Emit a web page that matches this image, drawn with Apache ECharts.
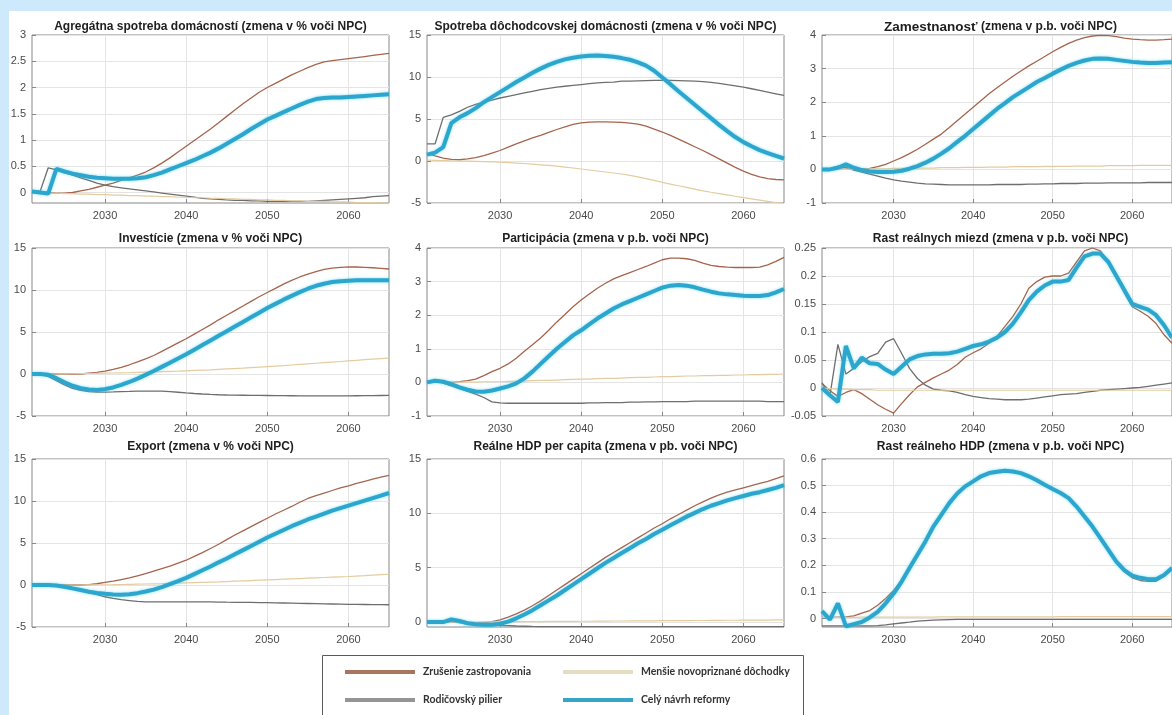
<!DOCTYPE html>
<html>
<head>
<meta charset="utf-8">
<script src="https://cdn.jsdelivr.net/npm/echarts@6/dist/echarts.min.js"></script>
<style>
html, body { margin: 0; padding: 0; background: #cde9fb; overflow: hidden; }
#sheet { position: absolute; left: 9px; top: 11px; right: 0; bottom: 0; background: #ffffff; }
#chart { position: absolute; left: 0; top: 0; width: 1172px; height: 715px; }
</style>
</head>
<body>
<div id="sheet"></div>
<div id="chart"></div>
<script>
// Years on the horizontal axis
const years = [
  2021, 2022, 2023, 2024, 2025, 2026, 2027, 2028, 2029, 2030,
  2031, 2032, 2033, 2034, 2035, 2036, 2037, 2038, 2039, 2040,
  2041, 2042, 2043, 2044, 2045, 2046, 2047, 2048, 2049, 2050,
  2051, 2052, 2053, 2054, 2055, 2056, 2057, 2058, 2059, 2060,
  2061, 2062, 2063, 2064, 2065
];
const yearTicks = [2030, 2040, 2050, 2060];

// Scenario names (legend)
const scenarioNames = [
  'Zrušenie zastropovania',
  'Rodičovský pilier',
  'Menšie novopriznané dôchodky',
  'Celý návrh reformy'
];

// --- Agregátna spotreba domácností ---
const spotrebaZrusenie = [
  0, 0, 0, -0.01, -0.01,
  0, 0.03, 0.06, 0.1, 0.14,
  0.18, 0.23, 0.28, 0.33, 0.39,
  0.47, 0.56, 0.66, 0.77, 0.88,
  0.99, 1.1, 1.21, 1.33, 1.45,
  1.57, 1.69, 1.8, 1.91, 2.0,
  2.08, 2.16, 2.24, 2.31, 2.38,
  2.44, 2.49, 2.51, 2.53, 2.55,
  2.57, 2.59, 2.61, 2.63, 2.65
];
const spotrebaPilier = [
  0.03, 0.02, 0.47, 0.43, 0.38,
  0.33, 0.28, 0.23, 0.18, 0.14,
  0.11, 0.09, 0.07, 0.05, 0.03,
  0.01, -0.01, -0.03, -0.05, -0.07,
  -0.09, -0.11, -0.12, -0.13, -0.14,
  -0.15, -0.15, -0.16, -0.16, -0.17,
  -0.17, -0.17, -0.17, -0.17, -0.17,
  -0.16, -0.15, -0.14, -0.13, -0.12,
  -0.11, -0.1, -0.08, -0.07, -0.06
];
const spotrebaMensie = [
  0, 0, -0.01, -0.01, -0.02,
  -0.02, -0.03, -0.03, -0.04, -0.04,
  -0.05, -0.05, -0.06, -0.06, -0.07,
  -0.07, -0.08, -0.08, -0.09, -0.09,
  -0.1, -0.1, -0.11, -0.11, -0.12,
  -0.12, -0.13, -0.13, -0.14, -0.14,
  -0.15, -0.15, -0.16, -0.16, -0.17,
  -0.17, -0.17, -0.18, -0.18, -0.18,
  -0.19, -0.19, -0.19, -0.2, -0.2
];
const spotrebaCely = [
  0.02, 0.0, -0.02, 0.45, 0.4,
  0.36, 0.33, 0.3, 0.28, 0.27,
  0.26, 0.26, 0.26, 0.27, 0.29,
  0.33, 0.38, 0.44, 0.5, 0.56,
  0.62, 0.69, 0.76, 0.84, 0.93,
  1.02, 1.11, 1.21, 1.3, 1.39,
  1.46, 1.53, 1.6, 1.67, 1.73,
  1.78, 1.8, 1.81, 1.81, 1.82,
  1.83, 1.84, 1.85, 1.86, 1.87
];

// --- Spotreba dôchodcovskej domácnosti ---
const dochodcaZrusenie = [
  0.9, 0.6, 0.35, 0.2, 0.15,
  0.25, 0.4, 0.65, 0.95, 1.25,
  1.65, 2.05, 2.4, 2.75, 3.05,
  3.4, 3.75, 4.05, 4.35, 4.55,
  4.62, 4.65, 4.65, 4.63, 4.6,
  4.52, 4.4, 4.15, 3.8, 3.45,
  3.05, 2.6, 2.15, 1.7, 1.25,
  0.75, 0.25, -0.25, -0.75, -1.2,
  -1.6, -1.9, -2.1, -2.2, -2.25
];
const dochodcaPilier = [
  2.05, 2.05, 5.2, 5.5, 5.9,
  6.4, 6.75, 7.0, 7.25, 7.5,
  7.7, 7.9, 8.1, 8.3, 8.5,
  8.65, 8.8, 8.9, 9.0, 9.1,
  9.2, 9.3, 9.35, 9.4, 9.5,
  9.52, 9.55, 9.58, 9.6, 9.6,
  9.6, 9.58, 9.55, 9.5, 9.45,
  9.35, 9.25, 9.1, 8.95, 8.8,
  8.6, 8.4, 8.2, 8.0, 7.8
];
const dochodcaMensie = [
  0.1, 0.08, 0.05, 0.02, 0.0,
  -0.02, -0.05, -0.08, -0.11, -0.15,
  -0.2, -0.25, -0.3, -0.37, -0.45,
  -0.53, -0.62, -0.72, -0.83, -0.95,
  -1.07, -1.19, -1.31, -1.43, -1.55,
  -1.72, -1.9, -2.1, -2.3, -2.55,
  -2.75, -2.95, -3.15, -3.35, -3.55,
  -3.72, -3.88, -4.04, -4.2, -4.35,
  -4.5, -4.65, -4.8, -4.95, -5.1
];
const dochodcaCely = [
  0.76, 1.0, 1.65, 4.5, 5.2,
  5.7, 6.3, 7.0, 7.6, 8.2,
  8.8, 9.4, 9.95, 10.5, 11.0,
  11.45, 11.8, 12.1, 12.3, 12.45,
  12.52, 12.55, 12.5, 12.4, 12.25,
  12.05, 11.75, 11.35, 10.75, 9.95,
  9.15, 8.3, 7.5, 6.7, 5.9,
  5.1, 4.3, 3.55, 2.85, 2.25,
  1.75, 1.3, 0.95, 0.6, 0.3
];

// --- Zamestnanosť ---
const zamestZrusenie = [
  0, 0, 0.02, 0.05, 0.0,
  0.0, 0.03, 0.08, 0.15, 0.25,
  0.35, 0.47, 0.6, 0.75, 0.9,
  1.05, 1.25, 1.45, 1.65, 1.85,
  2.05, 2.25, 2.43, 2.6, 2.77,
  2.93, 3.08, 3.22, 3.36, 3.5,
  3.63, 3.75, 3.85, 3.92, 3.97,
  3.99, 3.98, 3.95, 3.91, 3.88,
  3.86, 3.85, 3.85, 3.86, 3.88
];
const zamestPilier = [
  0, 0.02, 0.1, 0.05, -0.02,
  -0.08, -0.14, -0.2, -0.26, -0.31,
  -0.35, -0.38, -0.41, -0.43, -0.44,
  -0.45, -0.46, -0.46, -0.46, -0.46,
  -0.46, -0.46, -0.45, -0.45, -0.45,
  -0.45, -0.44, -0.44, -0.43, -0.43,
  -0.42, -0.42, -0.42, -0.41, -0.41,
  -0.41, -0.4, -0.4, -0.4, -0.4,
  -0.4, -0.39, -0.39, -0.39, -0.39
];
const zamestMensie = [
  0, 0, 0.01, 0.01, 0.01,
  0.01, 0.02, 0.02, 0.02, 0.03,
  0.03, 0.03, 0.04, 0.04, 0.04,
  0.05, 0.05, 0.05, 0.06, 0.06,
  0.06, 0.07, 0.07, 0.07, 0.08,
  0.08, 0.08, 0.08, 0.09, 0.09,
  0.09, 0.09, 0.1, 0.1, 0.1,
  0.1, 0.11, 0.11, 0.11, 0.11,
  0.12, 0.12, 0.12, 0.12, 0.12
];
const zamestCely = [
  0, 0, 0.05, 0.15, 0.05,
  -0.02, -0.06, -0.08, -0.08, -0.07,
  -0.04, 0.02, 0.1, 0.2, 0.32,
  0.47, 0.63, 0.82, 1.0, 1.2,
  1.4, 1.6, 1.8, 1.97, 2.15,
  2.3, 2.45, 2.6, 2.72, 2.85,
  2.97, 3.08, 3.17, 3.24, 3.29,
  3.3, 3.29, 3.26, 3.23, 3.2,
  3.18, 3.17, 3.17, 3.18, 3.19
];

// --- Investície ---
const investZrusenie = [
  0, 0, 0, 0, 0,
  0, 0, 0.1, 0.2, 0.33,
  0.55, 0.8, 1.1, 1.45, 1.8,
  2.2, 2.7, 3.2, 3.7, 4.2,
  4.75, 5.3, 5.85, 6.45, 7.0,
  7.55, 8.1, 8.65, 9.2, 9.7,
  10.2, 10.7, 11.15, 11.55, 11.9,
  12.2, 12.45, 12.6, 12.7, 12.75,
  12.74, 12.7, 12.65, 12.58, 12.5
];
const investPilier = [
  0, 0, -0.3, -0.8, -1.3,
  -1.7, -1.95, -2.1, -2.15, -2.15,
  -2.13, -2.1, -2.08, -2.05, -2.05,
  -2.05, -2.05, -2.1, -2.17, -2.25,
  -2.32, -2.38, -2.43, -2.47, -2.5,
  -2.52, -2.53, -2.55, -2.55, -2.56,
  -2.57, -2.58, -2.59, -2.6, -2.6,
  -2.6, -2.6, -2.6, -2.6, -2.6,
  -2.59, -2.58, -2.57, -2.56, -2.55
];
const investMensie = [
  0, 0, 0, 0, 0.02,
  0.03, 0.05, 0.06, 0.08, 0.1,
  0.12, 0.14, 0.16, 0.19, 0.22,
  0.25, 0.28, 0.31, 0.34, 0.38,
  0.42, 0.46, 0.5, 0.55, 0.6,
  0.65, 0.7, 0.76, 0.82, 0.88,
  0.94, 1.0, 1.07, 1.14, 1.21,
  1.28, 1.35, 1.42, 1.49, 1.56,
  1.63, 1.7, 1.77, 1.84, 1.9
];
const investCely = [
  0, 0, -0.1, -0.5, -1.0,
  -1.4, -1.7, -1.85, -1.9, -1.8,
  -1.6, -1.3, -0.95, -0.55, -0.1,
  0.35, 0.85, 1.35, 1.85, 2.35,
  2.9, 3.45, 4.0, 4.55, 5.1,
  5.65, 6.2, 6.75, 7.3, 7.85,
  8.35, 8.85, 9.3, 9.75, 10.15,
  10.5, 10.75, 10.95, 11.05, 11.1,
  11.15, 11.15, 11.15, 11.15, 11.15
];

// --- Participácia ---
const particZrusenie = [
  0, 0.05, 0.03, 0, 0.02,
  0.05, 0.1, 0.2, 0.32, 0.42,
  0.55, 0.72, 0.93, 1.12, 1.32,
  1.55, 1.8, 2.02, 2.25, 2.45,
  2.63, 2.8, 2.95, 3.08, 3.18,
  3.27, 3.36, 3.45, 3.55, 3.65,
  3.7, 3.7, 3.68, 3.63, 3.55,
  3.48, 3.45, 3.43, 3.42, 3.42,
  3.42, 3.43, 3.5, 3.6, 3.72
];
const particPilier = [
  0, 0.05, -0.02, -0.1, -0.18,
  -0.27, -0.35, -0.45, -0.58, -0.61,
  -0.62, -0.62, -0.62, -0.62, -0.62,
  -0.62, -0.62, -0.62, -0.62, -0.62,
  -0.61, -0.61, -0.6, -0.6, -0.6,
  -0.59, -0.59, -0.58, -0.58, -0.57,
  -0.57, -0.57, -0.57, -0.56, -0.56,
  -0.56, -0.56, -0.56, -0.56, -0.56,
  -0.56, -0.56, -0.57, -0.57, -0.57
];
const particMensie = [
  0, 0, 0, 0.01, 0.01,
  0.01, 0.01, 0.02, 0.02, 0.02,
  0.03, 0.04, 0.04, 0.05, 0.06,
  0.06, 0.07, 0.08, 0.09, 0.1,
  0.1, 0.11, 0.12, 0.12, 0.13,
  0.14, 0.15, 0.15, 0.16, 0.17,
  0.17, 0.18, 0.19, 0.19, 0.2,
  0.2, 0.21, 0.21, 0.22, 0.22,
  0.23, 0.23, 0.24, 0.24, 0.25
];
const particCely = [
  0, 0.05, 0.02, -0.05, -0.15,
  -0.22, -0.27, -0.28, -0.24, -0.18,
  -0.12, -0.03, 0.12, 0.32, 0.55,
  0.78, 1.0, 1.2, 1.4, 1.55,
  1.73, 1.9, 2.05, 2.2, 2.32,
  2.42, 2.52, 2.62, 2.72, 2.82,
  2.88, 2.9, 2.88, 2.83, 2.76,
  2.7, 2.65, 2.62, 2.6, 2.58,
  2.57, 2.57, 2.6, 2.68, 2.78
];

// --- Rast reálnych miezd ---
const miezdyZrusenie = [
  0.008, -0.005, -0.015, -0.008, -0.003,
  -0.01, -0.02, -0.03, -0.038, -0.045,
  -0.028, -0.012, 0.002, 0.01, 0.018,
  0.025, 0.032, 0.042, 0.055, 0.063,
  0.07, 0.08, 0.092, 0.11, 0.128,
  0.15, 0.178, 0.19, 0.198, 0.2,
  0.2, 0.205, 0.225, 0.245, 0.25,
  0.245, 0.225, 0.2, 0.17, 0.145,
  0.137, 0.128, 0.115, 0.095, 0.08
];
const miezdyPilier = [
  0.009, -0.013, 0.078, 0.025, 0.035,
  0.047, 0.056, 0.062, 0.082, 0.088,
  0.062, 0.035, 0.017, 0.005, -0.002,
  -0.004, -0.005, -0.008, -0.012, -0.015,
  -0.017, -0.019, -0.02, -0.021, -0.021,
  -0.021, -0.02, -0.018, -0.016, -0.014,
  -0.012, -0.011, -0.01, -0.008, -0.006,
  -0.004, -0.003, -0.002, -0.001, 0.0,
  0.001, 0.003, 0.005, 0.007, 0.009
];
const miezdyMensie = [
  0, -0.001, -0.002, -0.002, -0.003,
  -0.003, -0.003, -0.004, -0.004, -0.004,
  -0.004, -0.004, -0.004, -0.004, -0.004,
  -0.004, -0.004, -0.004, -0.004, -0.004,
  -0.004, -0.004, -0.004, -0.004, -0.004,
  -0.004, -0.004, -0.004, -0.004, -0.004,
  -0.004, -0.004, -0.004, -0.004, -0.004,
  -0.004, -0.004, -0.004, -0.004, -0.004,
  -0.004, -0.004, -0.004, -0.004, -0.004
];
const miezdyCely = [
  0.0, -0.013, -0.025, 0.075, 0.035,
  0.054, 0.044, 0.043, 0.033, 0.025,
  0.038, 0.051, 0.057, 0.06, 0.061,
  0.061, 0.062, 0.065, 0.07, 0.075,
  0.078, 0.083, 0.09, 0.1, 0.115,
  0.135, 0.157, 0.172, 0.183, 0.19,
  0.19, 0.193, 0.215, 0.235, 0.24,
  0.24, 0.225, 0.2, 0.175, 0.15,
  0.145, 0.14, 0.13, 0.112, 0.09
];

// --- Export ---
const exportZrusenie = [
  0, 0, 0, 0, 0,
  0, 0, 0.05, 0.15, 0.3,
  0.45, 0.65, 0.85, 1.1, 1.35,
  1.65, 1.95, 2.25, 2.6, 2.95,
  3.4, 3.85, 4.35, 4.85, 5.4,
  5.95, 6.45, 6.95, 7.45, 7.95,
  8.45, 8.9, 9.35, 9.85, 10.3,
  10.65, 10.95, 11.25, 11.55, 11.8,
  12.1, 12.35, 12.6, 12.85, 13.05
];
const exportPilier = [
  0, 0, 0, -0.05, -0.2,
  -0.4, -0.65, -0.9, -1.15, -1.4,
  -1.6, -1.75, -1.85, -1.95, -2.0,
  -2.0, -2.0, -2.0, -2.0, -2.0,
  -2.0, -2.01, -2.02, -2.03, -2.05,
  -2.06, -2.07, -2.08, -2.09, -2.1,
  -2.12, -2.14, -2.16, -2.18, -2.2,
  -2.22, -2.24, -2.26, -2.28, -2.3,
  -2.31, -2.32, -2.33, -2.34, -2.35
];
const exportMensie = [
  0, 0, 0, 0, 0,
  0, 0, 0.01, 0.02, 0.03,
  0.04, 0.06, 0.08, 0.1, 0.12,
  0.14, 0.16, 0.19, 0.22, 0.25,
  0.28, 0.31, 0.34, 0.37, 0.41,
  0.45, 0.49, 0.53, 0.57, 0.61,
  0.65, 0.69, 0.73, 0.77, 0.81,
  0.85, 0.89, 0.93, 0.97, 1.01,
  1.06, 1.11, 1.17, 1.23, 1.28
];
const exportCely = [
  0, 0, 0, -0.05, -0.2,
  -0.4, -0.6, -0.8, -0.95, -1.05,
  -1.12, -1.15, -1.1, -0.97, -0.78,
  -0.55, -0.25, 0.1, 0.45, 0.85,
  1.3, 1.75, 2.2, 2.7, 3.15,
  3.65, 4.15, 4.65, 5.15, 5.65,
  6.1, 6.55, 7.0, 7.4, 7.8,
  8.15, 8.5, 8.85, 9.15, 9.45,
  9.75, 10.05, 10.35, 10.65, 10.95
];

// --- Reálne HDP per capita ---
const hdpPcZrusenie = [
  0, 0, 0, 0.1, 0.05,
  -0.05, -0.1, -0.05, 0.05, 0.2,
  0.45, 0.75, 1.1, 1.5, 1.95,
  2.45, 2.95, 3.45, 3.95, 4.45,
  4.95, 5.45, 5.95, 6.4, 6.85,
  7.3, 7.75, 8.2, 8.65, 9.05,
  9.5, 9.9, 10.3, 10.7, 11.05,
  11.4, 11.7, 11.95, 12.15, 12.35,
  12.55, 12.75, 12.95, 13.2, 13.45
];
const hdpPcPilier = [
  0, 0, 0, 0, -0.05,
  -0.1, -0.15, -0.2, -0.25, -0.3,
  -0.33, -0.36, -0.38, -0.4, -0.41,
  -0.42, -0.42, -0.42, -0.42, -0.42,
  -0.42, -0.42, -0.42, -0.42, -0.42,
  -0.42, -0.42, -0.42, -0.42, -0.42,
  -0.42, -0.42, -0.42, -0.42, -0.42,
  -0.42, -0.42, -0.42, -0.42, -0.42,
  -0.42, -0.42, -0.42, -0.42, -0.42
];
const hdpPcMensie = [
  0, 0, 0, 0, 0,
  0.01, 0.01, 0.02, 0.02, 0.03,
  0.03, 0.04, 0.04, 0.05, 0.05,
  0.06, 0.06, 0.07, 0.07, 0.08,
  0.08, 0.09, 0.09, 0.1, 0.1,
  0.11, 0.11, 0.12, 0.12, 0.13,
  0.13, 0.14, 0.14, 0.15, 0.15,
  0.16, 0.16, 0.17, 0.17, 0.18,
  0.18, 0.19, 0.19, 0.2, 0.2
];
const hdpPcCely = [
  0, 0, 0, 0.25, 0.1,
  -0.1, -0.2, -0.25, -0.25, -0.15,
  0.05, 0.35, 0.7, 1.1, 1.55,
  2.0, 2.45, 2.95, 3.45, 3.95,
  4.45, 4.95, 5.45, 5.9, 6.35,
  6.8, 7.25, 7.65, 8.1, 8.5,
  8.9, 9.3, 9.7, 10.05, 10.4,
  10.7, 10.95, 11.2, 11.4, 11.6,
  11.8, 11.95, 12.15, 12.35, 12.6
];

// --- Rast reálneho HDP ---
const rastHdpZrusenie = [
  0.004, 0.004, 0.005, 0.006, 0.01,
  0.02, 0.03, 0.05, 0.075, 0.105,
  0.145, 0.193, 0.242, 0.291, 0.345,
  0.389, 0.432, 0.468, 0.495, 0.514,
  0.533, 0.545, 0.55, 0.554, 0.551,
  0.545, 0.533, 0.518, 0.5, 0.484,
  0.469, 0.45, 0.418, 0.38, 0.342,
  0.298, 0.254, 0.21, 0.176, 0.153,
  0.143, 0.14, 0.14, 0.158, 0.185
];
const rastHdpPilier = [
  -0.028, -0.028, -0.028, -0.028, -0.028,
  -0.028, -0.028, -0.027, -0.024, -0.02,
  -0.017, -0.014, -0.01, -0.008, -0.006,
  -0.005, -0.004, -0.003, -0.003, -0.003,
  -0.003, -0.003, -0.003, -0.003, -0.003,
  -0.003, -0.003, -0.003, -0.003, -0.003,
  -0.003, -0.003, -0.003, -0.003, -0.003,
  -0.003, -0.003, -0.003, -0.003, -0.003,
  -0.003, -0.003, -0.003, -0.003, -0.003
];
const rastHdpMensie = [
  0.004, 0.004, 0.004, 0.004, 0.004,
  0.005, 0.005, 0.005, 0.005, 0.005,
  0.005, 0.005, 0.005, 0.005, 0.005,
  0.006, 0.006, 0.006, 0.006, 0.006,
  0.006, 0.006, 0.006, 0.006, 0.006,
  0.006, 0.006, 0.006, 0.006, 0.006,
  0.007, 0.007, 0.007, 0.007, 0.007,
  0.007, 0.007, 0.007, 0.007, 0.007,
  0.007, 0.007, 0.007, 0.007, 0.007
];
const rastHdpCely = [
  0.028, -0.004, 0.057, -0.029, -0.021,
  -0.013, 0.004, 0.025, 0.057, 0.094,
  0.138, 0.19, 0.24, 0.29, 0.346,
  0.39, 0.434, 0.47, 0.497, 0.516,
  0.535, 0.547, 0.552, 0.556, 0.553,
  0.547, 0.535, 0.52, 0.503, 0.487,
  0.472, 0.453, 0.421, 0.384, 0.346,
  0.302, 0.258, 0.214, 0.182, 0.161,
  0.153, 0.148, 0.148, 0.164, 0.19
];

// Panel definitions: title, y range, y tick labels, series (same order as scenarioNames)
const panels = [
  { title: '{t|Agregátna spotreba domácností (zmena v % voči NPC)}', min: -0.2, max: 3,
    ticks: [0, 0.5, 1, 1.5, 2, 2.5, 3],
    series: [spotrebaZrusenie, spotrebaPilier, spotrebaMensie, spotrebaCely] },
  { title: '{t|Spotreba dôchodcovskej domácnosti (zmena v % voči NPC)}', min: -5, max: 15,
    ticks: [-5, 0, 5, 10, 15],
    series: [dochodcaZrusenie, dochodcaPilier, dochodcaMensie, dochodcaCely] },
  { title: '{big|Zamestnanosť} {t|(zmena v p.b. voči NPC)}', min: -1, max: 4,
    ticks: [-1, 0, 1, 2, 3, 4],
    series: [zamestZrusenie, zamestPilier, zamestMensie, zamestCely] },
  { title: '{t|Investície (zmena v % voči NPC)}', min: -5, max: 15,
    ticks: [-5, 0, 5, 10, 15],
    series: [investZrusenie, investPilier, investMensie, investCely] },
  { title: '{t|Participácia (zmena v p.b. voči NPC)}', min: -1, max: 4,
    ticks: [-1, 0, 1, 2, 3, 4],
    series: [particZrusenie, particPilier, particMensie, particCely] },
  { title: '{t|Rast reálnych miezd (zmena v p.b. voči NPC)}', min: -0.05, max: 0.25,
    ticks: [-0.05, 0, 0.05, 0.1, 0.15, 0.2, 0.25],
    series: [miezdyZrusenie, miezdyPilier, miezdyMensie, miezdyCely] },
  { title: '{t|Export (zmena v % voči NPC)}', min: -5, max: 15,
    ticks: [-5, 0, 5, 10, 15],
    series: [exportZrusenie, exportPilier, exportMensie, exportCely] },
  { title: '{t|Reálne HDP per capita (zmena v pb. voči NPC)}', min: -0.45, max: 15,
    ticks: [0, 5, 10, 15],
    series: [hdpPcZrusenie, hdpPcPilier, hdpPcMensie, hdpPcCely] },
  { title: '{t|Rast reálneho HDP (zmena v p.b. voči NPC)}', min: -0.032, max: 0.6,
    ticks: [0, 0.1, 0.2, 0.3, 0.4, 0.5, 0.6],
    series: [rastHdpZrusenie, rastHdpPilier, rastHdpMensie, rastHdpCely] }
];

const lineColors = ['#a5654d', '#6e6e6e', '#e3cc9f', '#2ca6cd'];
const legendColors = ['#a87560', '#959595', '#e6dcbf', '#36a5c6'];
const lineWidths = [1.3, 1.3, 1.2, 4];

const colLeft = [32, 427, 822];
const rowTop = [35, 248, 459];
const titleY = [27, 239, 447];
const gridW = 357;
const gridH = 168;
const FONT = '"Liberation Sans", Arial, sans-serif';

const grids = [], xAxes = [], yAxes = [], series = [], graphics = [];

panels.forEach((p, i) => {
  const col = i % 3, row = Math.floor(i / 3);
  grids.push({
    left: colLeft[col], top: rowTop[row], width: gridW, height: gridH,
    show: true, borderColor: '#878787', borderWidth: 1, backgroundColor: '#ffffff'
  });
  xAxes.push({
    gridIndex: i, type: 'value', min: 2021, max: 2065,
    axisLine: { show: false, onZero: false },
    axisTick: { show: true, inside: true, length: 4, customValues: yearTicks,
      lineStyle: { color: '#878787' } },
    axisLabel: { customValues: yearTicks, color: '#4a4a4a', fontSize: 11,
      fontFamily: FONT, margin: 7, formatter: (v) => String(v) },
    splitLine: { show: true, lineStyle: { color: '#e4e4e4', width: 1 } }
  });
  yAxes.push({
    gridIndex: i, type: 'value', min: p.min, max: p.max,
    axisLine: { show: false, onZero: false },
    axisTick: { show: true, inside: true, length: 4, customValues: p.ticks,
      lineStyle: { color: '#878787' } },
    axisLabel: { customValues: p.ticks, color: '#4a4a4a', fontSize: 11,
      fontFamily: FONT, margin: 6 },
    splitLine: { show: true, lineStyle: { color: '#e4e4e4', width: 1 } }
  });
  p.series.forEach((vals, k) => {
    series.push({
      name: scenarioNames[k], type: 'line', xAxisIndex: i, yAxisIndex: i,
      data: years.map((y, j) => [y, vals[j]]),
      showSymbol: false, symbol: 'none', smooth: false, z: 2 + k,
      color: lineColors[k],
      lineStyle: Object.assign(
        { color: lineColors[k], width: lineWidths[k] },
        k === 3 ? { shadowColor: 'rgba(70, 205, 240, 0.7)', shadowBlur: 3 } : {}
      ),
      emphasis: { disabled: true }
    });
  });
  graphics.push({
    type: 'text', x: colLeft[col] + gridW / 2, y: titleY[row], silent: true,
    style: {
      text: p.title, align: 'center', verticalAlign: 'middle',
      textAlign: 'center', textVerticalAlign: 'middle',
      rich: {
        t: { fontSize: 12, fontWeight: 'bold', fontFamily: FONT, fill: '#1e1e1e' },
        big: { fontSize: 13.5, fontWeight: 'bold', fontFamily: FONT, fill: '#1e1e1e' }
      }
    }
  });
});

// Legend frame
graphics.push({
  type: 'rect', shape: { x: 322.5, y: 655.5, width: 481, height: 80 }, silent: true,
  style: { fill: '#ffffff', stroke: '#5a5a5a', lineWidth: 1 }, z: -1
});

const legendText = { fontSize: 10.5, fontWeight: 'bold', fontFamily: 'Lato, "Open Sans", sans-serif',
  color: '#333333', lineHeight: 14, padding: [0, 0, 0, 3] };

// One legend entry per slot, laid out as two columns of two rows
const legendSlots = [
  { idx: 0, left: 345, top: 665 },
  { idx: 1, left: 345, top: 693 },
  { idx: 2, left: 563, top: 665 },
  { idx: 3, left: 563, top: 693 }
];

const chart = echarts.init(document.getElementById('chart'), null, { renderer: 'canvas' });
chart.setOption({
  animation: false,
  backgroundColor: 'transparent',
  grid: grids,
  xAxis: xAxes,
  yAxis: yAxes,
  series: series,
  graphic: { elements: graphics },
  legend: legendSlots.map((s) => ({
    data: [scenarioNames[s.idx]], orient: 'horizontal', left: s.left, top: s.top, padding: 0,
    itemWidth: 70, itemHeight: 4, icon: 'rect', textStyle: legendText,
    itemStyle: { borderWidth: 0, color: legendColors[s.idx] }, selectedMode: false
  }))
});
</script>
</body>
</html>
